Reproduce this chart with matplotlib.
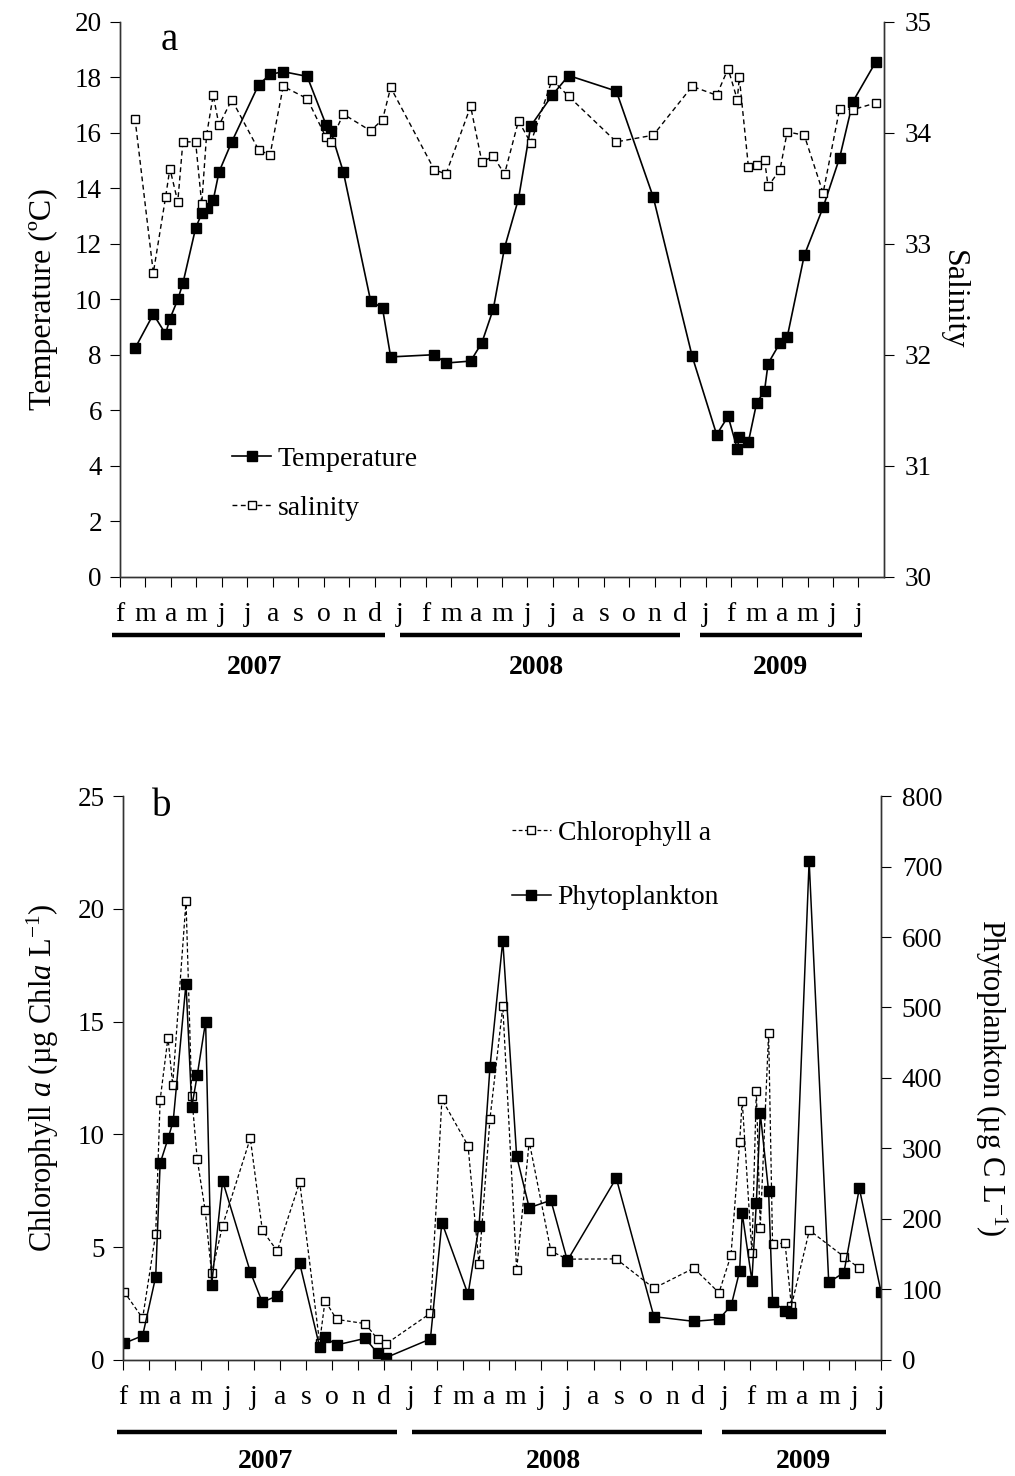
import matplotlib
matplotlib.use('Agg')
import matplotlib.pyplot as plt

plt.rcParams['font.family'] = ['Liberation Serif', 'DejaVu Serif']
plt.rcParams['mathtext.fontset'] = 'custom'
plt.rcParams['mathtext.rm'] = 'Liberation Serif'
plt.rcParams['mathtext.it'] = 'Liberation Serif:italic'

# month labels (Feb 2007 - Jul 2009) and years
month_labels = list('fmamjjasond') + list('jfmamjjasond') + list('jfmamjj')
years = ['2007', '2008', '2009']

# panel a: sampling dates in months since 1 Feb 2007
date_a = [0.59, 1.31, 1.79, 1.96, 2.27, 2.47, 2.97, 3.21, 3.40, 3.66, 3.89, 4.39,
          5.44, 5.89, 6.41, 7.35, 8.09, 8.27, 8.77, 9.84, 10.31, 10.63, 12.34, 12.80,
          13.77, 14.21, 14.66, 15.10, 15.65, 16.13, 16.97, 17.62, 19.49, 20.94, 22.47,
          23.43, 23.88, 24.24, 24.32, 24.68, 25.00, 25.31, 25.45, 25.92, 26.20, 26.87,
          27.61, 28.26, 28.78, 29.67]
temperature = [8.24, 9.47, 8.76, 9.30, 10.0, 10.58, 12.57, 13.1, 13.3, 13.57, 14.6, 15.68,
               17.73, 18.11, 18.21, 18.04, 16.3, 16.08, 14.6, 9.96, 9.68, 7.93, 8.01, 7.71,
               7.78, 8.44, 9.66, 11.86, 13.63, 16.25, 17.36, 18.07, 17.51, 13.69, 7.95,
               5.13, 5.79, 4.61, 5.06, 4.88, 6.27, 6.71, 7.69, 8.44, 8.64, 11.59,
               13.32, 15.11, 17.13, 18.55]
salinity = [34.13, 32.74, 33.42, 33.68, 33.38, 33.92, 33.92, 33.36, 33.98, 34.34, 34.07, 34.30,
            33.85, 33.80, 34.42, 34.31, 33.96, 33.92, 34.17, 34.02, 34.12, 34.41, 33.67, 33.63,
            34.24, 33.74, 33.79, 33.63, 34.11, 33.91, 34.48, 34.33, 33.92, 33.98, 34.42,
            34.34, 34.58, 34.30, 34.50, 33.69, 33.71, 33.76, 33.52, 33.67, 34.01, 33.98,
            33.46, 34.22, 34.21, 34.27]

# panel b
date_chl = [0.04, 0.75, 1.25, 1.42, 1.72, 1.90, 2.41, 2.63, 2.84, 3.14, 3.39, 3.81, 4.87,
            5.33, 5.90, 6.76, 7.52, 7.73, 8.17, 9.27, 9.74, 10.06, 11.76, 12.20, 13.20,
            13.62, 14.04, 14.53, 15.06, 15.54, 16.37, 17.0, 18.87, 20.31, 21.84, 22.80,
            23.26, 23.59, 23.69, 24.06, 24.23, 24.38, 24.70, 24.85, 25.33, 25.57, 26.26,
            27.58, 28.17]
chl = [3.03, 1.85, 5.59, 11.53, 14.29, 12.2, 20.34, 11.68, 8.9, 6.64, 3.84, 5.96, 9.83,
       5.75, 4.83, 7.88, 0.77, 2.63, 1.80, 1.61, 0.92, 0.71, 2.07, 11.56, 9.50,
       4.24, 10.7, 15.67, 4.0, 9.68, 4.83, 4.47, 4.48, 3.18, 4.07, 2.98,
       4.64, 9.65, 11.49, 4.73, 11.93, 5.87, 14.5, 5.16, 5.17, 2.39, 5.75,
       4.58, 4.07]
date_phy = [0.04, 0.75, 1.25, 1.42, 1.73, 1.92, 2.41, 2.63, 2.84, 3.16, 3.39, 3.81, 4.87,
            5.33, 5.90, 6.76, 7.52, 7.73, 8.17, 9.27, 9.74, 10.06, 11.76, 12.20, 13.20,
            13.62, 14.04, 14.53, 15.06, 15.54, 16.37, 17.0, 18.87, 20.31, 21.84, 22.80,
            23.27, 23.59, 23.69, 24.06, 24.23, 24.38, 24.70, 24.85, 25.33, 25.57, 26.25,
            27.0, 27.58, 28.17, 29.0]
phyto = [23.6, 34.5, 118, 279, 315, 339, 534, 359, 404, 480, 106, 254, 125,
         81.8, 91.2, 137, 18.9, 32.2, 21.3, 30.7, 9.5, 3.3, 29.8, 195, 93.2,
         190, 416, 595, 289, 216, 226.5, 141, 258, 61.5, 54.8, 57.7,
         77.6, 126, 208, 112.5, 223, 350, 239, 82.7, 70, 66.2, 708,
         110, 124, 243.5, 96.5]

FS = 19
fig = plt.figure(figsize=(10.15, 14.76), dpi=100)


def style_axes(ax, ax2, xmax):
    ax.set_xlim(0, xmax)
    ax.set_xticks(range(len(month_labels)))
    ax.set_xticklabels(month_labels, fontsize=FS + 1)
    ax.tick_params(axis='x', length=7, pad=11)
    ax.tick_params(axis='y', length=7, labelsize=FS + 0.5, pad=6)
    ax2.tick_params(axis='y', length=7, labelsize=FS + 0.5, pad=8)
    for a in (ax, ax2):
        a.spines['top'].set_visible(False)
        for s in a.spines.values():
            s.set_linewidth(1.0)
            s.set_color('#333333')


def year_bars(ax, spans, centers, yline, ytext):
    tr = ax.get_xaxis_transform()
    for (x0, x1), xc, yr in zip(spans, centers, years):
        ax.plot([x0, x1], [yline, yline], color='black', lw=3.2,
                transform=tr, clip_on=False, solid_capstyle='butt')
        ax.text(xc, ytext, yr, transform=tr, ha='center', va='center',
                fontsize=FS + 1, fontweight='bold')


# ---------------- panel a ----------------
ax = fig.add_axes([0.1182, 0.6091, 0.7527, 0.376])
ax2 = ax.twinx()
lt, = ax.plot(date_a, temperature, '-', color='black', lw=1.2, marker='s',
              ms=7.5, mfc='black', mec='black', label='Temperature')
ls, = ax2.plot(date_a, salinity, '--', color='black', lw=1.0, dashes=(3.5, 2.5),
               marker='s', ms=6, mfc='white', mec='black', mew=1.0, label='salinity')
ax.set_ylim(0, 20)
ax.set_yticks(range(0, 21, 2))
ax2.set_ylim(30, 35)
ax2.set_yticks(range(30, 36))
style_axes(ax, ax2, 30)
ax.set_ylabel('Temperature (ºC)', fontsize=23, labelpad=12)
ax2.set_ylabel('Salinity', fontsize=23, rotation=270, labelpad=26)
ax.text(0.065, 0.967, 'a', transform=ax.transAxes, fontsize=28, ha='center', va='center')
ax2.legend([lt, ls], ['Temperature', 'salinity'], loc='center left',
           bbox_to_anchor=(0.114, 0.168), frameon=False, fontsize=20,
           handlelength=1.4, handletextpad=0.25, labelspacing=0.85)
year_bars(ax, [(-0.31, 10.4), (11.0, 21.99), (22.77, 29.13)],
          [5.3, 16.37, 25.95], -0.1045, -0.163)

# ---------------- panel b ----------------
bx = fig.add_axes([0.1212, 0.0786, 0.7468, 0.3821])
bx2 = bx.twinx()
lc, = bx.plot(date_chl, chl, '--', color='black', lw=0.9, dashes=(3, 2),
              marker='s', ms=6, mfc='white', mec='black', mew=1.0,
              label='Chlorophyll a', zorder=2)
lp, = bx2.plot(date_phy, phyto, '-', color='black', lw=1.1, marker='s',
               ms=7.5, mfc='black', mec='black', label='Phytoplankton')
bx.set_ylim(0, 25)
bx.set_yticks(range(0, 26, 5))
bx2.set_ylim(0, 800)
bx2.set_yticks(range(0, 801, 100))
style_axes(bx, bx2, 29)
bx.set_ylabel(r'Chlorophyll $\it{a}$ (µg Chl$\it{a}$ L$^{-1}$)', fontsize=22, labelpad=12)
bx2.set_ylabel(r'Phytoplankton (µg C L$^{-1}$)', fontsize=22, rotation=270, labelpad=48)
bx.text(0.051, 0.982, 'b', transform=bx.transAxes, fontsize=28, ha='center', va='center')
bx2.legend([lc, lp], ['Chlorophyll a', 'Phytoplankton'], loc='center left',
           bbox_to_anchor=(0.48, 0.877), frameon=False, fontsize=20,
           handlelength=1.4, handletextpad=0.25, labelspacing=1.4)
year_bars(bx, [(-0.23, 10.48), (11.06, 22.15), (22.92, 29.2)],
          [5.47, 16.45, 26.05], -0.1277, -0.18)

fig.savefig('out.png', dpi=100)
